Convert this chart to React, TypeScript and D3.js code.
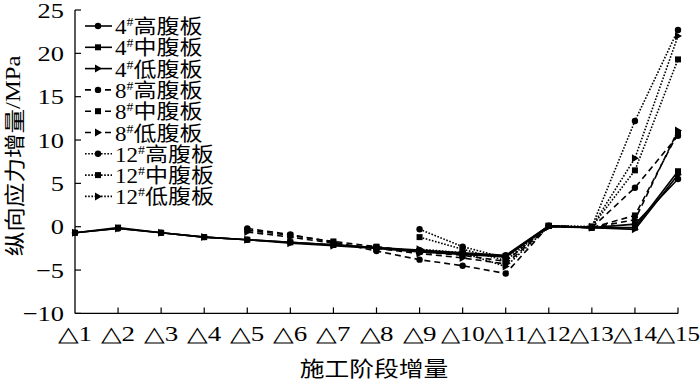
import React from "react";
import * as d3 from "d3";

const stages = ["△1","△2","△3","△4","△5","△6","△7","△8","△9","△10","△11","△12","△13","△14","△15"];
const yTicks = [-10, -5, 0, 5, 10, 15, 20, 25];

type V = number | null;
const s4High: V[] = [-0.7,-0.2,-0.7,-1.2,-1.5,-1.8,-2.1,-2.4,-2.7,-3.0,-3.3,0.1,-0.1,0.3,5.5];
const s4Mid: V[]  = [-0.7,-0.1,-0.7,-1.2,-1.5,-1.8,-2.1,-2.4,-2.8,-3.1,-3.4,0.1,-0.1,-0.1,6.4];
const s4Low: V[]  = [-0.7,-0.2,-0.7,-1.2,-1.5,-1.9,-2.2,-2.5,-2.9,-3.2,-3.5,0.0,-0.1,-0.3,6.0];
const s8High: V[] = [null,null,null,null,-0.2,-0.9,-1.8,-2.8,-3.8,-4.5,-5.4,0.1,-0.1,4.5,10.5];
const s8Mid: V[]  = [null,null,null,null,-0.4,-1.0,-1.7,-2.3,-2.9,-3.3,-4.0,0.1,-0.1,1.3,10.8];
const s8Low: V[]  = [null,null,null,null,-0.6,-1.2,-1.9,-2.5,-3.1,-3.6,-4.3,0.0,-0.1,0.8,11.1];
const s12High: V[] = [null,null,null,null,null,null,null,null,-0.3,-2.3,-3.6,0.1,0.0,12.2,22.7];
const s12Mid: V[]  = [null,null,null,null,null,null,null,null,-1.2,-2.6,-3.9,0.1,0.0,6.5,19.3];
const s12Low: V[]  = [null,null,null,null,null,null,null,null,-2.6,-3.0,-4.6,0.0,0.0,7.9,22.0];

const seriesNames = ["4", "4", "4", "8", "8", "8", "12", "12", "12"];
const seriesParts = ["高腹板", "中腹板", "低腹板", "高腹板", "中腹板", "低腹板", "高腹板", "中腹板", "低腹板"];
const seriesValues = [s4High, s4Mid, s4Low, s8High, s8Mid, s8Low, s12High, s12Mid, s12Low];
const seriesDash = ["none", "none", "none", "6,4", "6,4", "6,4", "1.6,1.6", "1.6,1.6", "1.6,1.6"];
const seriesMarker = ["circle", "square", "triangle", "circle", "square", "triangle", "circle", "square", "triangle"];

const SERIF = "'Liberation Serif', 'Times New Roman', serif";
const CJK = "'Noto Sans CJK SC', sans-serif";

function Marker({ kind, x, y }: { kind: string; x: number; y: number }) {
  if (kind === "circle") return <circle cx={x} cy={y} r={3.2} fill="#000" />;
  if (kind === "square") return <rect x={x - 3} y={y - 3} width={6} height={6} fill="#000" />;
  return <path d={`M${x + 4},${y} L${x - 3},${y - 4} L${x - 3},${y + 4} Z`} fill="#000" />;
}

export default function App() {
  const x = d3.scalePoint<string>().domain(stages).range([75, 678]);
  const y = d3.scaleLinear().domain([-10, 25]).range([313.4, 10]);
  const line = d3
    .line<{ s: string; v: V }>()
    .defined((d) => d.v !== null)
    .x((d) => x(d.s) as number)
    .y((d) => y(d.v as number));

  const legendY0 = 27;
  const legendStep = 21.3;

  return (
    <svg
      width={700}
      height={382}
      style={{ position: "absolute", left: 0, top: 0, background: "#fff" }}
    >
      <rect width={700} height={382} fill="#fff" />
      {/* axes */}
      <line x1={75} y1={y(25)} x2={75} y2={y(-10)} stroke="#000" strokeWidth={1.3} />
      <line x1={75} y1={y(-10)} x2={678} y2={y(-10)} stroke="#000" strokeWidth={1.3} />
      {yTicks.map((t) => (
        <g key={t}>
          <line x1={75} x2={81} y1={y(t)} y2={y(t)} stroke="#000" strokeWidth={1.2} />
          <g transform={`translate(64,${y(t) + 7.5}) scale(1.2,1)`}>
            <text textAnchor="end" fontFamily={SERIF} fontSize={22} fill="#000">
              {t < 0 ? "\u2212" + Math.abs(t) : String(t)}
            </text>
          </g>
        </g>
      ))}
      {stages.map((s, i) => (
        <g key={s}>
          {i > 0 && (
            <line x1={x(s)} x2={x(s)} y1={y(-10)} y2={y(-10) - 6} stroke="#000" strokeWidth={1.2} />
          )}
          <text
            x={x(s)}
            y={341}
            textAnchor="middle"
            fontFamily={SERIF}
            fontSize={21}
            fill="#000"
            textLength={s.length > 2 ? 44 : 34}
            lengthAdjust="spacingAndGlyphs"
          >
            {s}
          </text>
        </g>
      ))}
      {/* titles */}
      <g transform="translate(374,376) scale(1.18,1)">
        <text textAnchor="middle" fontFamily={CJK} fontSize={21} fill="#000">施工阶段增量</text>
      </g>
      <g transform="translate(13,156) rotate(-90) scale(1.17,1)">
        <text textAnchor="middle" dominantBaseline="central" fontSize={21} fill="#000">
          <tspan fontFamily={CJK}>纵向应力增量</tspan>
          <tspan fontFamily={SERIF}>/MPa</tspan>
        </text>
      </g>
      {/* series */}
      {seriesValues.map((vals, k) => {
        const data = stages.map((s, i) => ({ s, v: vals[i] }));
        return (
          <g key={k}>
            <path
              d={line(data) || ""}
              fill="none"
              stroke="#000"
              strokeWidth={1.6}
              strokeDasharray={seriesDash[k]}
            />
            {data
              .filter((d) => d.v !== null)
              .map((d) => (
                <Marker key={d.s} kind={seriesMarker[k]} x={x(d.s) as number} y={y(d.v as number)} />
              ))}
          </g>
        );
      })}
      {/* legend */}
      {seriesNames.map((n, k) => {
        const ly = legendY0 + k * legendStep;
        return (
          <g key={k}>
            <rect x={84} y={ly - 10} width={140} height={20} fill="#fff" opacity={0} />
            <line x1={85} x2={112} y1={ly - 1} y2={ly - 1} stroke="#000" strokeWidth={1.6} strokeDasharray={seriesDash[k]} />
            <Marker kind={seriesMarker[k]} x={98} y={ly - 1} />
            <g transform={`translate(115,${ly + 7}) scale(1.15,1)`}>
              <text fontSize={20} fill="#000">
                <tspan fontFamily={SERIF}>{n}</tspan>
                <tspan fontFamily={SERIF} fontSize={12} dy={-8}>#</tspan>
                <tspan fontFamily={CJK} dy={8}>{seriesParts[k]}</tspan>
              </text>
            </g>
          </g>
        );
      })}
    </svg>
  );
}
